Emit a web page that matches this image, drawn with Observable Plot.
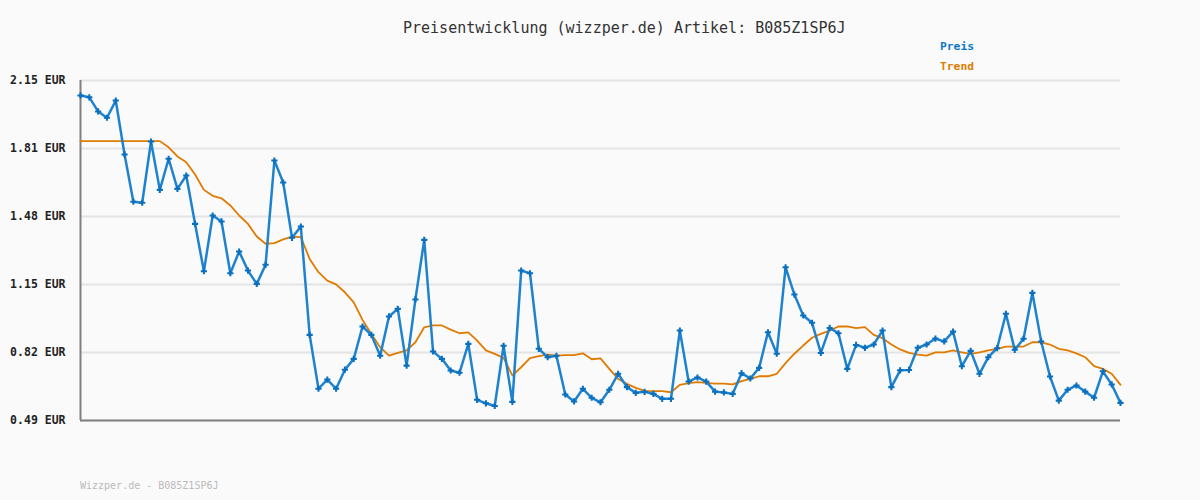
<!DOCTYPE html>
<html>
<head>
<meta charset="utf-8">
<script src="https://cdn.jsdelivr.net/npm/d3@7"></script>
<script src="https://cdn.jsdelivr.net/npm/@observablehq/plot@0.6"></script>
<style>
  html, body { margin: 0; padding: 0; background: #fafafa; }
  #wrap { position: relative; width: 1200px; height: 500px; background: #fafafa; font-family: "DejaVu Sans Mono", "Liberation Mono", monospace; }
  #wrap svg { position: absolute; left: 0; top: 0; }
  .lbl { position: absolute; white-space: nowrap; line-height: 1; }
  #title { left: 403px; top: 21px; font-size: 15px; color: #333; }
  #lgPreis { left: 940px; top: 41px; font-size: 11.3px; font-weight: bold; color: #0a77c4; }
  #lgTrend { left: 940px; top: 61px; font-size: 11.3px; font-weight: bold; color: #e07b00; }
  #footer { left: 80px; top: 481px; font-size: 10px; color: #bbbbbb; }
</style>
</head>
<body>
<div id="wrap">
  <div class="lbl" id="title">Preisentwicklung (wizzper.de) Artikel: B085Z1SP6J</div>
  <div class="lbl" id="lgPreis">Preis</div>
  <div class="lbl" id="lgTrend">Trend</div>
  <div class="lbl" id="footer">Wizzper.de - B085Z1SP6J</div>
</div>
<script>
const price = [2.077,2.068,1.999,1.968,2.052,1.789,1.558,1.553,1.852,1.616,
1.768,1.621,1.686,1.450,1.219,1.491,1.462,1.209,1.315,1.222,
1.157,1.250,1.759,1.652,1.382,1.437,0.908,0.645,0.690,0.645,
0.738,0.791,0.949,0.908,0.806,0.998,1.035,0.758,1.081,1.372,
0.827,0.791,0.734,0.723,0.864,0.591,0.574,0.561,0.855,0.581,
1.222,1.209,0.840,0.799,0.806,0.617,0.583,0.645,0.601,0.579,
0.640,0.718,0.653,0.625,0.630,0.620,0.596,0.596,0.929,0.680,
0.700,0.680,0.631,0.627,0.620,0.721,0.695,0.747,0.921,0.816,
1.238,1.105,1.003,0.967,0.820,0.942,0.916,0.742,0.859,0.845,
0.861,0.929,0.653,0.735,0.737,0.845,0.861,0.890,0.876,0.924,
0.755,0.830,0.718,0.799,0.843,1.011,0.835,0.889,1.113,0.876,
0.705,0.587,0.640,0.661,0.631,0.601,0.730,0.666,0.576];

const trend = [1.854,1.854,1.854,1.854,1.854,1.854,1.854,1.854,1.854,1.854,
1.824,1.779,1.751,1.691,1.616,1.587,1.575,1.540,1.491,1.450,
1.388,1.353,1.356,1.374,1.388,1.385,1.279,1.214,1.173,1.155,
1.116,1.067,0.981,0.913,0.848,0.807,0.820,0.832,0.872,0.945,
0.954,0.954,0.934,0.916,0.920,0.880,0.832,0.815,0.796,0.710,
0.750,0.794,0.804,0.812,0.807,0.809,0.809,0.818,0.789,0.793,
0.742,0.693,0.669,0.649,0.635,0.633,0.633,0.628,0.664,0.672,
0.677,0.674,0.670,0.670,0.666,0.682,0.693,0.706,0.706,0.718,
0.770,0.816,0.856,0.894,0.913,0.929,0.949,0.949,0.941,0.946,
0.908,0.892,0.861,0.837,0.820,0.812,0.807,0.823,0.823,0.832,
0.823,0.815,0.823,0.832,0.840,0.851,0.851,0.851,0.872,0.872,
0.861,0.840,0.832,0.818,0.799,0.755,0.742,0.718,0.664];

const tickValues = [0.49, 0.822, 1.154, 1.486, 1.818, 2.15];
const tickLabels = ["0.49 EUR", "0.82 EUR", "1.15 EUR", "1.48 EUR", "1.81 EUR", "2.15 EUR"];

const priceData = price.map((v, i) => ({i, v}));
const trendData = trend.map((v, i) => ({i, v}));
const labelOf = new Map(tickValues.map((t, k) => [t, tickLabels[k]]));

const chart = Plot.plot({
  width: 1200,
  height: 500,
  marginLeft: 80,
  marginRight: 80,
  marginTop: 80,
  marginBottom: 80,
  style: {background: "transparent", fontFamily: "'DejaVu Sans Mono', 'Liberation Mono', monospace"},
  x: {domain: [0, price.length - 1], axis: null},
  y: {domain: [0.49, 2.15], axis: null},
  marks: [
    Plot.gridY(tickValues, {stroke: "#e4e4e4", strokeOpacity: 1, strokeWidth: 2}),
    Plot.axisY(tickValues, {label: null, tickSize: 0, tickPadding: 15, tickFormat: d => labelOf.get(d), fontSize: 11.5, fontWeight: "bold", fill: "#222"}),
    Plot.ruleX([0], {stroke: "#808080", strokeWidth: 2}),
    Plot.ruleY([0.49], {stroke: "#808080", strokeWidth: 2}),
    Plot.line(trendData, {x: "i", y: "v", stroke: "#e07b00", strokeWidth: 1.8}),
    Plot.line(priceData, {x: "i", y: "v", stroke: "#1e82cf", strokeWidth: 2.5}),
    Plot.dot(priceData, {x: "i", y: "v", symbol: "cross", r: 2.6, fill: "#0a6fbd", stroke: "none"})
  ]
});
document.getElementById("wrap").prepend(chart);
</script>
</body>
</html>
